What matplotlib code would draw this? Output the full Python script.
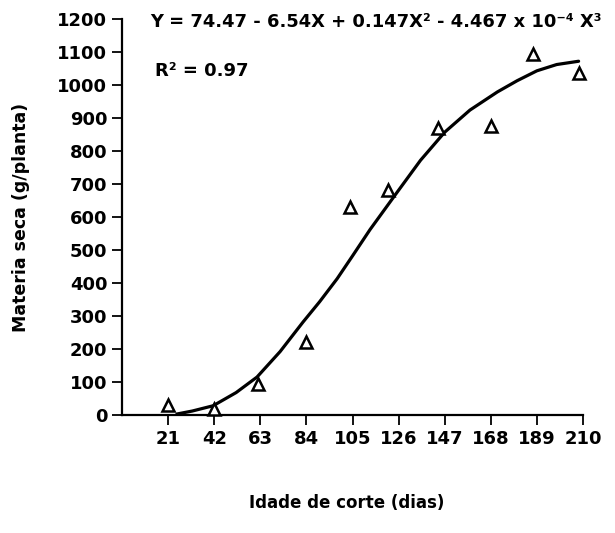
import numpy as np
import matplotlib
matplotlib.use("Agg")
import matplotlib.pyplot as plt

# observed data (days of cut, dry matter g/plant)
idade = [21, 42, 62, 84, 104, 121, 144, 168, 187, 208]
materia_seca = [30, 18, 94, 221, 629, 682, 871, 877, 1095, 1035]

# fitted curve as drawn in the figure
curva_x = [25, 32, 41.5, 52, 61.5, 72, 82.5, 90, 98, 105, 113, 125,
           136, 147, 158.5, 171, 180, 189, 198, 208]
curva_y = [3, 12, 28, 68, 115, 192, 282, 343, 413, 482, 562, 672,
           772, 857, 924, 979, 1013, 1043, 1062, 1072]

x_ticks = [21, 42, 63, 84, 105, 126, 147, 168, 189, 210]
y_ticks = list(range(0, 1201, 100))

plt.rcParams['font.family'] = ['DejaVu Sans']
plt.rcParams['font.weight'] = 'bold'

fig = plt.figure(figsize=(6.15, 5.33), dpi=100)
ax = fig.add_axes([122 / 615, 1 - 415 / 533, (583 - 122) / 615, (415 - 19) / 533])

ax.plot(curva_x, curva_y, color='black', linewidth=2.3,
        solid_joinstyle='round', solid_capstyle='round', clip_on=False)

ax.plot(idade, materia_seca, linestyle='none', marker='^', markersize=9,
        markerfacecolor='white', markeredgecolor='black', markeredgewidth=1.8,
        clip_on=False, zorder=3)

ax.set_xlim(0, 210)
ax.set_ylim(0, 1200)
ax.set_xticks(x_ticks)
ax.set_yticks(y_ticks)
ax.tick_params(axis='both', labelsize=13, width=1.3, length=7, direction='out')
ax.tick_params(axis='x', pad=4)

for side in ['top', 'right']:
    ax.spines[side].set_visible(False)
for side in ['left', 'bottom']:
    ax.spines[side].set_linewidth(1.6)

ax.set_ylabel('Materia seca (g/planta)', fontsize=12.5, fontweight='bold', labelpad=20)
ax.set_xlabel('Idade de corte (dias)', fontsize=12, fontweight='bold')
ax.xaxis.set_label_coords(0.487, -0.20)

fig.text(150 / 615, 1 - 22 / 533,
         'Y = 74.47 - 6.54X + 0.147X\u00b2 - 4.467 x 10\u207b\u2074 X\u00b3',
         fontsize=12.9, fontweight='bold', va='center', ha='left')
fig.text(155 / 615, 1 - 71 / 533, 'R\u00b2 = 0.97',
         fontsize=13, fontweight='bold', va='center', ha='left')

fig.savefig('out.png', dpi=100)
